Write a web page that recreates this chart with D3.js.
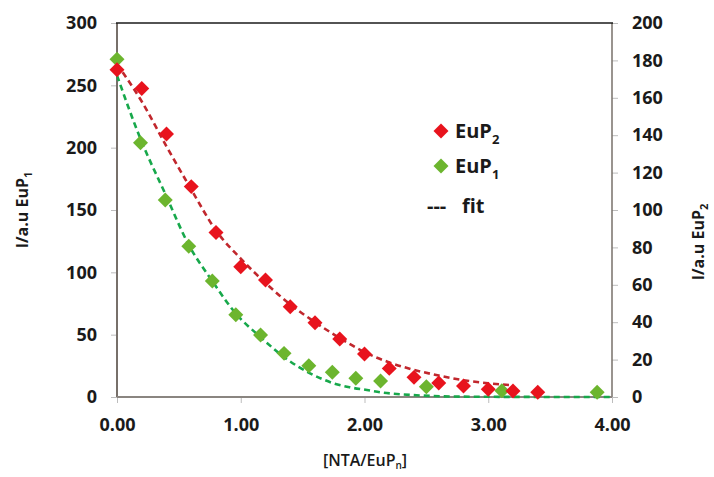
<!DOCTYPE html>
<html>
<head>
<meta charset="utf-8">
<script src="https://cdn.jsdelivr.net/npm/d3@7"></script>
<style>
  html, body { margin: 0; padding: 0; background: #fff; }
  svg { display: block; }
  text { font-family: "Open Sans", "DejaVu Sans", sans-serif; fill: #1a1a1a; }
</style>
</head>
<body>
<svg id="chart" width="714" height="477"></svg>
<script>
// ---- data ----
const xTicks = [0, 1, 2, 3, 4];
const leftTicks = [0, 50, 100, 150, 200, 250, 300];
const rightTicks = [0, 20, 40, 60, 80, 100, 120, 140, 160, 180, 200];

// EuP2 (red, right axis)
const eup2X = [0, 0.2, 0.4, 0.6, 0.8, 1.0, 1.2, 1.4, 1.6, 1.8, 2.0, 2.2, 2.4, 2.6, 2.8, 3.0, 3.2, 3.4];
const eup2Y = [175, 165, 140.6, 112.5, 88, 69.7, 62.6, 48.3, 39.7, 31, 23, 15.3, 10.5, 7.5, 5.9, 4.1, 3.2, 2.5];

// EuP1 (green, left axis)
const eup1X = [0, 0.19, 0.39, 0.58, 0.77, 0.96, 1.16, 1.35, 1.55, 1.74, 1.93, 2.13, 2.5, 3.11, 3.88];
const eup1Y = [271, 204, 158, 121, 93, 66, 49.7, 35, 25, 19.8, 15, 12.8, 8.3, 5, 3.8];

// fit curves
const fit2X = [0, 0.2, 0.4, 0.6, 0.8, 1.0, 1.2, 1.4, 1.6, 1.8, 2.0, 2.2, 2.4, 2.6, 2.8, 3.0, 3.2];
const fit2Y = [178, 158, 134, 111, 89, 74, 61, 49.5, 40, 31.5, 24, 18.5, 14.5, 11.5, 9, 7.3, 6.3];
const fit1X = [0, 0.19, 0.39, 0.58, 0.77, 0.96, 1.16, 1.35, 1.56, 1.75, 1.88, 2.02, 2.15, 2.29, 2.42, 2.55, 2.8, 3.2, 4.0];
const fit1Y = [258, 207, 163, 122, 93, 67, 48, 32, 19, 11, 7.8, 5.6, 3.5, 2.2, 1.4, 0.8, 0.3, 0.1, 0];

// ---- layout ----
const svg = d3.select("#chart");
const L = 117, R = 612, T = 23, B = 397;
const x = d3.scaleLinear().domain([0, 4]).range([L, R]);
const yL = d3.scaleLinear().domain([0, 300]).range([B, T]);
const yR = d3.scaleLinear().domain([0, 200]).range([B, T]);

const tickColor = "#bdbdbd";
function styleAxis(g) {
  g.select(".domain").remove();
  g.selectAll(".tick line").attr("stroke", tickColor).attr("stroke-width", 1);
  g.selectAll(".tick text")
    .style("font-family", "'Open Sans', sans-serif")
    .style("font-weight", "700")
    .style("font-size", "18px")
    .attr("fill", "#1a1a1a");
}

svg.append("g").attr("transform", `translate(${L},0)`)
  .call(d3.axisLeft(yL).tickValues(leftTicks).tickSize(6).tickPadding(14).tickFormat(d3.format("d")))
  .call(styleAxis);
svg.append("g").attr("transform", `translate(${R},0)`)
  .call(d3.axisRight(yR).tickValues(rightTicks).tickSize(6).tickPadding(14).tickFormat(d3.format("d")))
  .call(styleAxis);
svg.append("g").attr("transform", `translate(0,${B})`)
  .call(d3.axisBottom(x).tickValues(xTicks).tickSize(6).tickPadding(15).tickFormat(d3.format(".2f")))
  .call(styleAxis);

// frame
svg.append("line").attr("x1", L).attr("x2", L).attr("y1", T).attr("y2", B).attr("stroke", "#77706a").attr("stroke-width", 2);
svg.append("line").attr("x1", R).attr("x2", R).attr("y1", T).attr("y2", B).attr("stroke", "#77706a").attr("stroke-width", 1.5);
svg.append("line").attr("x1", L).attr("x2", R).attr("y1", B).attr("y2", B).attr("stroke", "#8a8580").attr("stroke-width", 2);
svg.append("line").attr("x1", L - 1).attr("x2", R + 1).attr("y1", T).attr("y2", T).attr("stroke", "#1a1a1a").attr("stroke-width", 1.6);

// fits
const fit1 = fit1X.map((v, i) => [v, fit1Y[i]]);
const fit2 = fit2X.map((v, i) => [v, fit2Y[i]]);
svg.append("path").datum(fit1)
  .attr("d", d3.line().x(d => x(d[0])).y(d => yL(d[1])).curve(d3.curveMonotoneX))
  .attr("fill", "none").attr("stroke", "#17a84b").attr("stroke-width", 2.6).attr("stroke-dasharray", "6,4");
svg.append("path").datum(fit2)
  .attr("d", d3.line().x(d => x(d[0])).y(d => yR(d[1])).curve(d3.curveMonotoneX))
  .attr("fill", "none").attr("stroke", "#c1272d").attr("stroke-width", 2.6).attr("stroke-dasharray", "6,4");

// markers
const diamond = d3.symbol().type(d3.symbolSquare).size(112);
const green = "#6cb52e", red = "#e8131d";
svg.append("g").selectAll("path").data(eup1X.map((v, i) => [v, eup1Y[i]])).join("path")
  .attr("d", diamond)
  .attr("transform", d => `translate(${x(d[0])},${yL(d[1])}) rotate(45)`)
  .attr("fill", green);
svg.append("g").selectAll("path").data(eup2X.map((v, i) => [v, eup2Y[i]])).join("path")
  .attr("d", diamond)
  .attr("transform", d => `translate(${x(d[0])},${yR(d[1])}) rotate(45)`)
  .attr("fill", red);

// legend
const legend = svg.append("g");
legend.append("path").attr("d", diamond).attr("transform", "translate(441,131) rotate(45)").attr("fill", red);
legend.append("path").attr("d", diamond).attr("transform", "translate(441,166) rotate(45)").attr("fill", green);
function subText(g, xx, yy, main, sub, size, subSize) {
  const t = g.append("text").attr("x", xx).attr("y", yy)
    .style("font-weight", "700").style("font-size", size + "px");
  t.append("tspan").text(main);
  t.append("tspan").attr("dy", size * 0.3).style("font-size", subSize + "px").text(sub);
  return t;
}
subText(legend, 455, 138, "EuP", "2", 20, 13);
subText(legend, 455, 173, "EuP", "1", 20, 13);
legend.append("text").attr("x", 427).attr("y", 213).style("font-weight", "700").style("font-size", "20px").text("---");
legend.append("text").attr("x", 462).attr("y", 213).style("font-weight", "700").style("font-size", "20px").text("fit");

// axis titles
const lt = svg.append("text").attr("transform", "translate(28,210) rotate(-90)").attr("text-anchor", "middle")
  .style("font-weight", "700").style("font-size", "16px");
lt.append("tspan").text("I/a.u EuP");
lt.append("tspan").attr("dy", 4).style("font-size", "11px").text("1");

const rt = svg.append("text").attr("transform", "translate(704,242) rotate(-90)").attr("text-anchor", "middle")
  .style("font-weight", "700").style("font-size", "16px");
rt.append("tspan").text("I/a.u EuP");
rt.append("tspan").attr("dy", 4).style("font-size", "11px").text("2");

const xt = svg.append("text").attr("x", 365).attr("y", 466).attr("text-anchor", "middle")
  .style("font-weight", "600").style("font-size", "16px");
xt.append("tspan").text("[NTA/EuP");
xt.append("tspan").attr("dy", 3).style("font-size", "10px").text("n");
xt.append("tspan").attr("dy", -3).text("]");
</script>
</body>
</html>
